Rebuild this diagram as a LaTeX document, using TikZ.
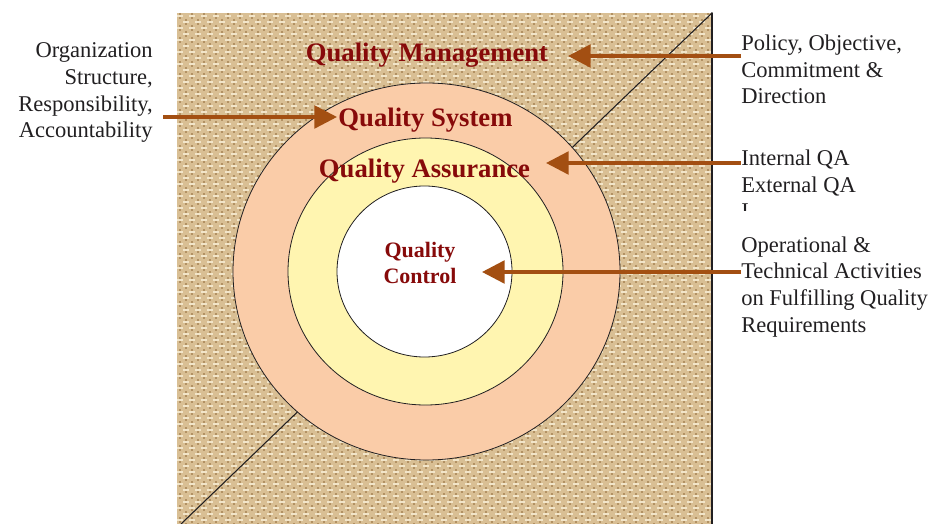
\documentclass[tikz,border=0pt]{standalone}
\usepackage{fontspec}
\setmainfont{Liberation Serif}
\usetikzlibrary{arrows.meta}
\definecolor{yxqaqa}{rgb}{0.53,0.04,0.04}
\definecolor{aqvqru}{rgb}{0.64,0.31,0.07}
\definecolor{fbccay}{rgb}{0.98,0.8,0.66}
\definecolor{fffwbq}{rgb}{1,0.96,0.69}
\definecolor{dqbyyf}{rgb}{0.85,0.75,0.58}
\definecolor{ecdcbc}{rgb}{0.95,0.9,0.79}
\definecolor{zwyuvz}{rgb}{0.7,0.57,0.39}
\definecolor{ssrfsq}{rgb}{0.13,0.12,0.13}

\begin{document}
\begin{tikzpicture}[line cap=round,line join=round,x=0.75pt,y=-0.75pt,
  qtitle/.style={font=\bfseries\fontsize{20}{24}\selectfont,text=yxqaqa,inner sep=0pt},
  qnote/.style={font=\fontsize{16.9}{20}\selectfont,text=ssrfsq,inner sep=0pt},
  qarrow/.style={color=aqvqru,line width=2.6pt,line cap=butt,-{Triangle[length=17pt,width=17pt]}}]
\useasboundingbox (0,0) rectangle (931,524);
% burlap square
\fill [color=dqbyyf] (177,13) rectangle (712,524);
\begin{scope}[line cap=butt]
\clip (177,13) rectangle (712,524);
\foreach \x in {180,192,...,708}
\draw [color=zwyuvz,line width=0.9pt,dash pattern=on 4.5pt off 4.5pt] (\x,13) -- (\x,524);
\foreach \x in {186,198,...,708}
\draw [color=zwyuvz,line width=0.9pt,dash pattern=on 4.5pt off 4.5pt,dash phase=4.5pt] (\x,13) -- (\x,524);
\foreach \y in {16,28,...,524}
\draw [color=ecdcbc,line width=1.5pt,dash pattern=on 4.5pt off 4.5pt] (177,\y) -- (712,\y);
\foreach \y in {22,34,...,524}
\draw [color=ecdcbc,line width=1.5pt,dash pattern=on 4.5pt off 4.5pt,dash phase=4.5pt] (177,\y) -- (712,\y);
\end{scope}
\draw [color=ssrfsq,line width=1.1pt] (712,13) -- (712,524);
\draw [color=ssrfsq,line width=0.8pt] (712,13) -- (181,524);
% rings
\draw [color=ssrfsq,line width=0.6pt,fill=fbccay] (426.5,271.5) ellipse (193.5 and 188.5);
\draw [color=ssrfsq,line width=0.6pt,fill=fffwbq] (425.5,271.5) ellipse (137.5 and 133.5);
\draw [color=ssrfsq,line width=0.6pt,fill=white] (424.5,271.5) ellipse (87.5 and 85.5);
% titles
\node [qtitle,anchor=base] (qm) at (427,62) {Quality Management};
\node [qtitle,anchor=base] (qs) at (425.5,127) {Quality System};
\node [qtitle,anchor=base] (qa) at (424.5,177) {Quality Assurance};
\node [qtitle,font=\bfseries\fontsize{16.5}{19}\selectfont,align=center,anchor=base] (qc) at (420,283) {Quality\\Control};
% notes
\node [qnote,align=left,anchor=base west] (policy) at (741,104) {Policy, Objective,\\Commitment \&\\Direction};
\node [qnote,align=left,anchor=base west] (qaNote) at (741,192) {Internal QA\\External QA};
\begin{scope}
\clip (730,195) rectangle (800,210);
\node [qnote,anchor=base west] (qaCut) at (741,218) {I};
\end{scope}
\node [qnote,align=left,anchor=base west] (ops) at (741,332) {Operational \&\\Technical Activities\\on Fulfilling Quality\\Requirements};
\node [qnote,align=right,anchor=base east] (org) at (153,138) {Organization\\Structure,\\Responsibility,\\Accountability};
% pointers
\coordinate (qmTip) at (568,56);
\coordinate (qsTip) at (337,117);
\coordinate (qaTip) at (546,163);
\coordinate (qcTip) at (482,272);
\draw [qarrow] (policy.west |- qmTip) -- (qmTip);
\draw [qarrow] (org.east |- qsTip) ++(10,0) -- (qsTip);
\draw [qarrow] (qaNote.west |- qaTip) -- (qaTip);
\draw [qarrow] (ops.west |- qcTip) -- (qcTip);
\end{tikzpicture}
\end{document}
